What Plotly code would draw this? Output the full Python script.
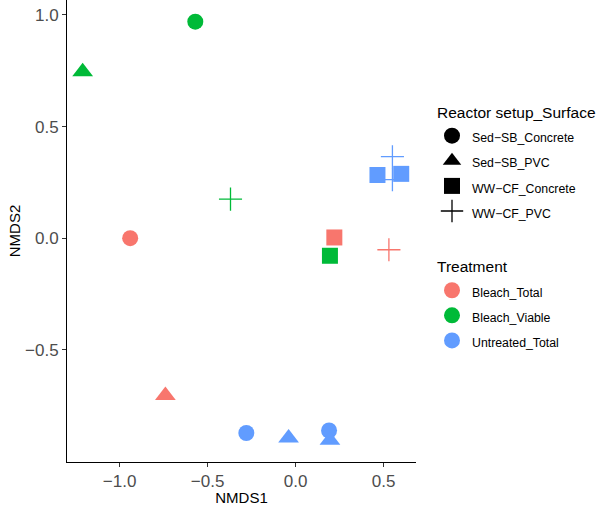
import plotly.graph_objects as go

# ---- data ----
nmds1 = [-1.21, -0.57, -0.37, -0.94, -0.74, -0.28, -0.04, 0.19, 0.195, 0.465, 0.60, 0.55, 0.55, 0.22, 0.195, 0.53]
nmds2 = [0.745, 0.97, 0.175, 0.0, -0.705, -0.873, -0.895, -0.862, -0.906, 0.283, 0.288, 0.365, 0.262, 0.003, -0.079, -0.052]
setup = ["Sed-SB_PVC", "Sed-SB_Concrete", "WW-CF_PVC", "Sed-SB_Concrete", "Sed-SB_PVC",
         "Sed-SB_Concrete", "Sed-SB_PVC", "Sed-SB_Concrete", "Sed-SB_PVC",
         "WW-CF_Concrete", "WW-CF_Concrete", "WW-CF_PVC", "WW-CF_PVC",
         "WW-CF_Concrete", "WW-CF_Concrete", "WW-CF_PVC"]
treatment = ["Bleach_Viable", "Bleach_Viable", "Bleach_Viable", "Bleach_Total", "Bleach_Total",
             "Untreated_Total", "Untreated_Total", "Untreated_Total", "Untreated_Total",
             "Untreated_Total", "Untreated_Total", "Untreated_Total", "Untreated_Total",
             "Bleach_Total", "Bleach_Viable", "Bleach_Total"]

setup_levels = ["Sed-SB_Concrete", "Sed-SB_PVC", "WW-CF_Concrete", "WW-CF_PVC"]
setup_labels = ["Sed\u2212SB_Concrete", "Sed\u2212SB_PVC", "WW\u2212CF_Concrete", "WW\u2212CF_PVC"]
treat_levels = ["Bleach_Total", "Bleach_Viable", "Untreated_Total"]

x_tickvals = [-1.0, -0.5, 0.0, 0.5]
x_ticktext = ["\u22121.0", "\u22120.5", "0.0", "0.5"]
y_tickvals = [-0.5, 0.0, 0.5, 1.0]
y_ticktext = ["\u22120.5", "0.0", "0.5", "1.0"]

symbols = {"Sed-SB_Concrete": "circle", "Sed-SB_PVC": "triangle-up",
           "WW-CF_Concrete": "square", "WW-CF_PVC": "cross-thin"}
sizes = {"circle": 16, "triangle-up": 18, "square": 16, "cross-thin": 16.5}
colors = {"Bleach_Total": "#F8766D", "Bleach_Viable": "#00BA38", "Untreated_Total": "#619CFF"}

fig = go.Figure()

# data traces
for s in setup_levels:
    for t in treat_levels:
        xs = [x for x, ss, tt in zip(nmds1, setup, treatment) if ss == s and tt == t]
        ys = [y for y, ss, tt in zip(nmds2, setup, treatment) if ss == s and tt == t]
        if not xs:
            continue
        sym = symbols[s]
        thin = sym == "cross-thin"
        fig.add_trace(go.Scatter(
            x=xs, y=ys, mode="markers", showlegend=False,
            marker=dict(symbol=sym, size=sizes[sym], color=colors[t],
                        line=dict(width=1.3 if thin else 0, color=colors[t])),
        ))

item_font = '<span style="font-size:12.3px">{}</span>'
title_font = dict(size=15.5, color="black")

# legend: shapes
for i, (s, lab) in enumerate(zip(setup_levels, setup_labels)):
    sym = symbols[s]
    thin = sym == "cross-thin"
    fig.add_trace(go.Scatter(
        x=[None], y=[None], mode="markers", name=item_font.format(lab),
        legendgroup="setup",
        legendgrouptitle=dict(text="Reactor setup_Surface", font=title_font),
        marker=dict(symbol=sym, size=sizes[sym], color="black",
                    line=dict(width=1.3 if thin else 0, color="black")),
    ))

# legend: colours
for i, t in enumerate(treat_levels):
    fig.add_trace(go.Scatter(
        x=[None], y=[None], mode="markers", name=item_font.format(t),
        legendgroup="treat",
        legendgrouptitle=dict(text="Treatment", font=title_font),
        marker=dict(symbol="circle", size=16, color=colors[t]),
    ))

axis_common = dict(
    showline=True, linecolor="black", linewidth=1, mirror=False,
    showgrid=False, zeroline=False, automargin=False,
    ticks="outside", ticklen=4, tickcolor="#333333", tickwidth=1,
    tickfont=dict(size=17, color="#4D4D4D"),
)

fig.update_layout(
    width=600, height=506,
    margin=dict(l=67, r=184, t=0, b=44),
    plot_bgcolor="white", paper_bgcolor="white",
    font=dict(family="Liberation Sans, Arial, Helvetica, sans-serif", color="black"),
    xaxis=dict(range=[-1.299, 0.684], tickvals=x_tickvals, ticktext=x_ticktext,
               title=dict(text="NMDS1", font=dict(size=15, color="black"), standoff=7),
               **axis_common),
    yaxis=dict(range=[-1.003, 1.067], tickvals=y_tickvals, ticktext=y_ticktext,
               title=dict(text="NMDS2", font=dict(size=15, color="black"), standoff=0),
               **axis_common),
    legend=dict(
        xref="container", yref="container", x=432 / 600, y=1 - 95 / 506,
        xanchor="left", yanchor="top",
        font=dict(size=17, color="black"),
        grouptitlefont=title_font,
        tracegroupgap=31, traceorder="grouped",
        bgcolor="rgba(0,0,0,0)", itemsizing="trace",
        maxheight=480,
    ),
)

fig.write_html("out.html", config={"displayModeBar": False},
               post_script="document.body.style.margin='0px';")
